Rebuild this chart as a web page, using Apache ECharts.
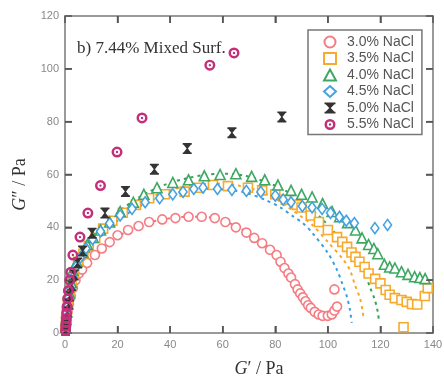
<!DOCTYPE html>
<html>
<head>
<meta charset="utf-8">
<script src="https://cdn.jsdelivr.net/npm/echarts@6/dist/echarts.min.js"></script>
<style>
  html, body { margin: 0; padding: 0; background: #fff; }
  #chart { width: 444px; height: 380px; }
</style>
</head>
<body>
<div id="chart"></div>
<script>
// Cole-Cole plot: loss modulus G'' against storage modulus G' (Pa)

const seriesNames = ['3.0% NaCl', '3.5% NaCl', '4.0% NaCl', '4.5% NaCl', '5.0% NaCl', '5.5% NaCl'];

const nacl30 = [[0.3,2],[0.6,5],[1,8],[1.5,11],[2.2,14],[3,17],[4,20],[5.2,22.5],[6.5,24],[8.4,26.5],
  [11.4,29.5],[14,32],[17,34.4],[20,37],[24,39],[28,40.5],[32,42],[37,43],[42,43.5],[47,44],[52,44],
  [57,43.5],[61,42],[65,40],[69,38],[72,36],[75,34],[78,31.5],[80.5,29.5],[82,27],[83.5,24.6],[85,22.5],
  [86,21],[87.5,18.5],[88.5,16.5],[89.5,15],[90.5,13.5],[91.5,12],[92.5,10.5],[93.5,9.5],[95,8],
  [96.5,7],[98,6.5],[100,6.5],[101.5,7],[102.5,8.5],[103.5,10],[102.5,16.5]];

const nacl35 = [[0.2,2],[0.4,5],[0.7,8],[1.1,11],[1.7,15],[2.5,19],[3.5,23],[5,27],[7,30],[9,33],
  [11.5,36],[14.5,39.5],[18,42.5],[22,45.5],[27,48.5],[32,51],[38,52.5],[45.5,53.5],[51,55],[56.3,56],
  [62,55.6],[69.6,55],[75,54],[80,52.5],[84,50.5],[88.2,48.5],[90,47.5],[93.5,44.5],[96.6,42],[100,39],
  [103.5,36.3],[105.5,34.5],[107.3,32.6],[109,30.5],[110.5,28.8],[112,27],[114,25],[115.5,22.5],
  [118,20.5],[120,18.8],[122,16.3],[123.5,14.5],[125.5,13.2],[128,12.5],[130,11.8],[132,11],[134,10.8],
  [136.9,14],[138,17],[128.8,2.2]];

const nacl40 = [[0.2,2],[0.4,5],[0.7,8],[1.1,11],[1.7,15],[2.4,19],[3,23.8],[4.5,27],[6.8,30.5],
  [8.5,33.5],[10.7,36.2],[13.5,39],[17,42],[21,46],[26,49.5],[30,52.5],[35,55],[41,57],[47,58],
  [53,59.5],[59,60],[65,60.3],[71,59.3],[76,58],[81,56],[86,54],[90,52.5],[94,51.5],[98,49],
  [101.6,46],[104.5,44],[107.5,41.8],[110.5,39],[113,36],[115.5,33.5],[117.5,32],[119,30],[121.5,26],
  [123.5,25],[125.5,24.6],[128,23.2],[130.5,22.2],[133,21.3],[135,21],[137,20.6]];

const nacl45 = [[0.2,2],[0.4,4.5],[0.7,7.5],[1,10],[1.5,13.5],[2.1,17],[3,21],[4.2,25],[5.8,28.5],
  [8,32],[10.5,35.5],[13.5,38.5],[17,41.5],[21,44.5],[25.5,47],[30.5,49.5],[36,51],[41,52.5],
  [44.9,53.4],[49,54.5],[52.5,55],[58,54.5],[63.5,54.2],[69,53.8],[74.5,53.4],[80,52],[83,50.5],
  [86,49.5],[90.3,48],[94,47.5],[97.8,47],[101,45.5],[104.4,43.9],[107,42.5],[110.1,41.6],
  [117.9,39.7],[122.7,40.9]];

const nacl50 = [[0.2,1],[0.4,3],[0.6,5],[0.9,8],[1.3,11],[1.8,14],[2.5,18],[3.5,22],[4.8,26.5],
  [6.7,31],[10.3,37.8],[15.2,45.4],[23,53.6],[34,62],[46.5,69.8],[63.5,75.8],[82.5,81.8]];

const nacl55 = [[0.2,1],[0.3,2.5],[0.4,4],[0.5,5.5],[0.6,7.5],[0.8,10],[1,13],[1.3,16],[1.8,20],
  [2.2,23],[3,29.5],[5.7,36.3],[8.7,45.4],[13.5,55.8],[19.8,68.5],[29.3,81.4],[55.1,101.4],[64.3,106]];

// model curves (dotted)
const fit30 = [[0,0],[1,8],[3,16],[6,23],[10,28.5],[15,33],[20,36.5],[26,39.5],[32,41.8],[39,43.3],
  [46,44],[53,44],[60,42.5],[66,40],[71,37],[76,33.5],[80,30],[83,26],[86,21.5],[88.5,17],[91,12.5],[93.5,9]];
const fit35 = [[0,0],[1,10],[3,18.5],[6,26],[10,33],[15,39],[20,43.5],[26,47.5],[32,51],[38,53.5],
  [45,55.3],[52,56.3],[58,56.5],[65,56],[72,54.3],[79,51.5],[85,47.5],[90,44],[94,41],[100.4,34],
  [105.7,28],[108.4,23.8],[110.3,18.2],[112.2,13.2],[113.3,7.9],[113.6,5]];
const fit40 = [[0,0],[1,10.5],[3,19],[6,27],[10,34],[15,40.5],[20,45.5],[26,50],[32,53.5],[39,56.5],
  [46,58.5],[53,59.8],[60,60.3],[67,59.8],[74,58],[81,55.3],[87,52],[93,47.5],[98,43],[103,37.5],
  [107,33],[111.4,28.8],[114.1,22.7],[116,17.4],[117.9,12.5],[119,7.9],[119.4,5]];
const fit45 = [[0,0],[1,10],[3,18],[6,25],[10,32],[15,38],[20,42.5],[25,46],[30,48.8],[35,51],
  [40,52.5],[47.5,53.8],[55,54.5],[62,54.2],[69,53],[76,50.5],[82,47.5],[87,44],[90.5,41.6],[94,38],
  [100,30.3],[103.5,23.8],[105.4,18.9],[107.3,13.6],[108.4,8.7],[109.1,3.8]];

const xTicks = [0, 20, 40, 60, 80, 100, 120, 140];
const yTicks = [0, 20, 40, 60, 80, 100, 120];

const colors = {
  red: '#f3767d', orange: '#f6a623', green: '#34a35a', blue: '#3a9de0', dark: '#333333', magenta: '#c2307a'
};

const hourglass = 'path://M0,0H10V1.5H9L5.7,5L9,8.5H10V10H0V8.5H1L4.3,5L1,1.5H0Z';
const ringDot = 'path://M10,0A10,10 0 1 1 10,20A10,10 0 1 1 10,0Z' +
  'M10,4.5A5.5,5.5 0 1 0 10,15.5A5.5,5.5 0 1 0 10,4.5Z' +
  'M10,7.8A2.2,2.2 0 1 1 10,12.2A2.2,2.2 0 1 1 10,7.8Z';

const serif = 'Liberation Serif';
const sans = 'Liberation Sans';
const TICK_LEN = 7;
const TICK_COLOR = '#555555';

const xMin = xTicks[0], xMax = xTicks[xTicks.length - 1];
const yMin = yTicks[0], yMax = yTicks[yTicks.length - 1];

// one record per frame tick: [value, side] (0 bottom, 1 top, 2 left, 3 right)
const frameTicks = [];
xTicks.slice(1, -1).forEach(v => { frameTicks.push([v, 0]); frameTicks.push([v, 1]); });
yTicks.slice(1, -1).forEach(v => { frameTicks.push([v, 2]); frameTicks.push([v, 3]); });

function renderTick(params, api) {
  const v = api.value(0), side = api.value(1);
  let p, d;
  if (side === 0) { p = api.coord([v, yMin]); d = [0, -TICK_LEN]; }
  else if (side === 1) { p = api.coord([v, yMax]); d = [0, TICK_LEN]; }
  else if (side === 2) { p = api.coord([xMin, v]); d = [TICK_LEN, 0]; }
  else { p = api.coord([xMax, v]); d = [-TICK_LEN, 0]; }
  return {
    type: 'line',
    shape: { x1: p[0], y1: p[1], x2: p[0] + d[0], y2: p[1] + d[1] },
    style: { stroke: TICK_COLOR, lineWidth: 1.5, fill: null }
  };
}

function fitLine(data, color) {
  return {
    type: 'line', data: data, symbol: 'none', smooth: 0.3, silent: true, z: 1,
    lineStyle: { color: color, width: 2, type: [3, 4] }
  };
}

function scatter(name, data, symbol, size, color, hollow) {
  return {
    name: name, type: 'scatter', data: data, symbol: symbol, symbolSize: size, z: 3,
    itemStyle: hollow
      ? { color: '#ffffff', borderColor: color, borderWidth: 1.6, opacity: 0.95 }
      : { color: color, opacity: 1 }
  };
}

function axisLine() { return { show: true, onZero: false, lineStyle: { color: '#9a9a9a', width: 2 } }; }
function axisTick() { return { show: true, inside: true, length: TICK_LEN, lineStyle: { color: TICK_COLOR, width: 1.5 } }; }

const chart = echarts.init(document.getElementById('chart'), null, { renderer: 'canvas' });
chart.setOption({
  animation: false,
  backgroundColor: '#ffffff',
  grid: { left: 65, right: 11, top: 16, bottom: 47, containLabel: false, outerBoundsMode: 'none' },
  title: {
    text: 'b) 7.44% Mixed Surf.', left: 72, top: 35,
    textStyle: { fontFamily: serif, fontSize: 17, fontWeight: 'normal', color: '#333' }
  },
  legend: {
    data: seriesNames, orient: 'vertical', left: 308, top: 30,
    padding: [5, 8, 3, 15], itemGap: 2.5, itemWidth: 12, itemHeight: 11,
    borderColor: '#777', borderWidth: 1.5, backgroundColor: '#fff',
    textStyle: { fontFamily: sans, fontSize: 14, color: '#555', padding: [0, 0, 0, 6] }
  },
  xAxis: [{
    type: 'value', min: xMin, max: xMax, interval: 20,
    name: '{i|G}{n|′ / Pa}', nameLocation: 'middle', nameGap: 27,
    nameTextStyle: {
      padding: [0, 0, 0, 20],
      rich: {
        i: { fontFamily: serif, fontStyle: 'italic', fontSize: 18, color: '#333' },
        n: { fontFamily: serif, fontSize: 18, color: '#333' }
      }
    },
    axisLine: axisLine(), axisTick: axisTick(), splitLine: { show: false },
    axisLabel: { fontFamily: sans, fontSize: 11, color: '#888', margin: 6,
      formatter: v => xTicks.indexOf(v) >= 0 ? String(v) : '' }
  }, {
    type: 'value', position: 'top', min: xMin, max: xMax, interval: 20,
    axisLine: axisLine(), axisTick: axisTick(),
    axisLabel: { show: false }, splitLine: { show: false }
  }],
  yAxis: [{
    type: 'value', min: yMin, max: yMax, interval: 20,
    name: '{i|G}{n|″ / Pa}', nameLocation: 'middle', nameGap: 34,
    nameTextStyle: {
      padding: [0, 0, 0, -20],
      rich: {
        i: { fontFamily: serif, fontStyle: 'italic', fontSize: 18, color: '#333' },
        n: { fontFamily: serif, fontSize: 18, color: '#333' }
      }
    },
    axisLine: axisLine(), axisTick: axisTick(), splitLine: { show: false },
    axisLabel: { fontFamily: sans, fontSize: 11, color: '#888', margin: 6,
      formatter: v => yTicks.indexOf(v) >= 0 ? String(v) : '' }
  }, {
    type: 'value', position: 'right', min: yMin, max: yMax, interval: 20,
    axisLine: axisLine(), axisTick: axisTick(),
    axisLabel: { show: false }, splitLine: { show: false }
  }],
  series: [
    {
      type: 'custom', data: frameTicks, renderItem: renderTick, silent: true, clip: false, z: 6,
      encode: { x: -1, y: -1 }
    },
    fitLine(fit30, colors.red),
    fitLine(fit45, colors.blue),
    fitLine(fit35, colors.orange),
    fitLine(fit40, colors.green),
    scatter(seriesNames[0], nacl30, 'circle', 9, colors.red, true),
    scatter(seriesNames[1], nacl35, 'rect', 9, colors.orange, true),
    scatter(seriesNames[2], nacl40, 'triangle', 10, colors.green, true),
    scatter(seriesNames[3], nacl45, 'diamond', [8, 11], colors.blue, true),
    scatter(seriesNames[4], nacl50, hourglass, [9, 11], colors.dark, false),
    scatter(seriesNames[5], nacl55, ringDot, 11, colors.magenta, false)
  ]
});
</script>
</body>
</html>
